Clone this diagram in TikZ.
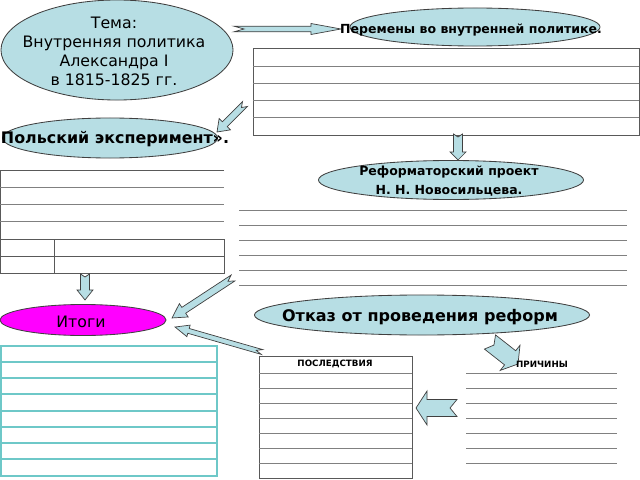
\documentclass[tikz,border=0pt]{standalone}
\usepackage{fontspec}
\setmainfont{DejaVu Sans}
\usetikzlibrary{shapes.geometric}
\definecolor{bubblefill}{RGB}{183,222,228}
\definecolor{tealline}{RGB}{110,200,200}
\definecolor{itogifill}{RGB}{255,0,255}
%% notched block arrow between two named points (sizes in px)
\newcommand{\notcharrow}[6]{%
  \path (#1); \pgfgetlastxy{\arrax}{\array}
  \path (#2); \pgfgetlastxy{\arrbx}{\arrby}
  \pgfmathsetmacro{\arrang}{atan2(\arrby-\array,\arrbx-\arrax)}
  \pgfmathsetmacro{\arrlen}{veclen(\arrbx-\arrax,\arrby-\array)/0.71132}
  \draw[blockarrow,shift={(#1)},rotate=\arrang]
    (0,-#3) -- ({\arrlen-#5},-#3) -- ({\arrlen-#5},-#4) -- (\arrlen,0)
    -- ({\arrlen-#5},#4) -- ({\arrlen-#5},#3) -- (0,#3) -- (#6,0) -- cycle;}
\begin{document}
\begin{tikzpicture}[x=0.025cm,y=-0.025cm,
    bubble/.style={ellipse,draw=black!75,fill=bubblefill,inner sep=0pt,line width=0.6pt},
    blockarrow/.style={draw=black!75,fill=bubblefill,line width=0.5pt},
    plaintxt/.style={font=\fontsize{11.2}{13.5}\selectfont,align=center,inner sep=0pt},
    boldtxt/.style={font=\bfseries\fontsize{8.9}{14}\selectfont,align=center,inner sep=0pt},
    headtxt/.style={font=\bfseries\fontsize{6.2}{7}\selectfont,inner sep=0pt},
    frameline/.style={draw=black!65,line width=0.7pt},
    ruleline/.style={draw=black!50,line width=0.7pt}]
    \useasboundingbox (0,0) rectangle (640,480);
    \fill[white] (0,0) rectangle (640,480);
    %% tables and ruled lines
    \draw[frameline] (253,48) rectangle (639,135);
    \foreach \y in {66,83,100,117}
        \draw[ruleline] (253,\y) -- (639,\y);
    \draw[frameline] (224,170) -- (0.5,170) -- (0.5,273) -- (224,273) -- (224,239) -- (0.5,239);
    \foreach \y in {187,204,221}
        \draw[ruleline] (0.5,\y) -- (224,\y);
    \draw[frameline] (0.5,256) -- (224,256) (54,239) -- (54,273);
    \foreach \y in {210,225,...,285}
        \draw[ruleline] (239,\y) -- (627,\y);
    \draw[tealline,line width=0.8pt] (1,346) rectangle (217,476);
    \foreach \y in {362,378,394,411,427,443,459}
        \draw[tealline,line width=0.8pt] (1,\y) -- (217,\y);
    \draw[frameline] (259,356) rectangle (412,478);
    \foreach \y in {373,388,...,463}
        \draw[ruleline] (259,\y) -- (412,\y);
    \foreach \y in {373,388,...,463}
        \draw[ruleline] (466,\y) -- (617,\y);
    %% ellipses
    \node[bubble,minimum width=5.8cm,minimum height=2.5cm] (tema) at (117,50) {};
    \node[bubble,minimum width=6.25cm,minimum height=0.95cm] (peremeny) at (475,27) {};
    \node[bubble,minimum width=5.375cm,minimum height=1cm] (polsky) at (110,138) {};
    \node[bubble,minimum width=6.625cm,minimum height=0.975cm] (reform) at (451,180) {};
    \node[bubble,minimum width=8.375cm,minimum height=1cm] (otkaz) at (422,315) {};
    \node[bubble,fill=itogifill,minimum width=4.15cm,minimum height=0.775cm] (itogi) at (83,320) {};
    %% arrows
    \coordinate (a1s) at (234,29);  \coordinate (a1e) at (341,29);
    \coordinate (a2s) at (458,134); \coordinate (a2e) at (458,160);
    \coordinate (a3s) at (245,104); \coordinate (a3e) at (217,132);
    \coordinate (a4s) at (85,274);  \coordinate (a4e) at (85,300);
    \coordinate (a5s) at (233,278); \coordinate (a5e) at (172,318);
    \coordinate (a6s) at (262,352); \coordinate (a6e) at (175,327);
    \coordinate (a7s) at (490,342); \coordinate (a7e) at (518,364);
    \coordinate (a8s) at (457,408); \coordinate (a8e) at (416,408);
    \notcharrow{a1s}{a1e}{2.8}{5.5}{30}{10}
    \notcharrow{a2s}{a2e}{4.5}{8}{8}{3}
    \notcharrow{a3s}{a3e}{3.5}{8}{11}{5}
    \notcharrow{a4s}{a4e}{4.5}{8}{10}{3}
    \notcharrow{a5s}{a5e}{3.5}{8}{14}{6}
    \notcharrow{a6s}{a6e}{2.5}{6}{14}{6}
    \notcharrow{a7s}{a7e}{9}{16}{10}{5}
    \notcharrow{a8s}{a8e}{8.5}{17}{11}{7}
    %% texts
    \node[plaintxt] (tematxt) at (114,51) {Тема:\\Внутренняя политика\\Александра I\\в 1815-1825 гг.};
    \node[boldtxt] (peremenytxt) at (471,30) {Перемены во внутренней политике.};
    \node[boldtxt,font=\bfseries\fontsize{11.3}{13}\selectfont] (polskytxt) at (115,139) {Польский эксперимент».};
    \node[boldtxt] (reformtxt) at (449,181) {Реформаторский проект\\Н. Н. Новосильцева.};
    \node[boldtxt,font=\bfseries\fontsize{11.4}{13}\selectfont] (otkaztxt) at (420,317) {Отказ от проведения реформ};
    \node[plaintxt] (itogitxt) at (81,322) {Итоги};
    \node[headtxt] (posledtxt) at (335,364) {ПОСЛЕДСТВИЯ};
    \node[headtxt] (prichtxt) at (542,364) {ПРИЧИНЫ};
\end{tikzpicture}
\end{document}
